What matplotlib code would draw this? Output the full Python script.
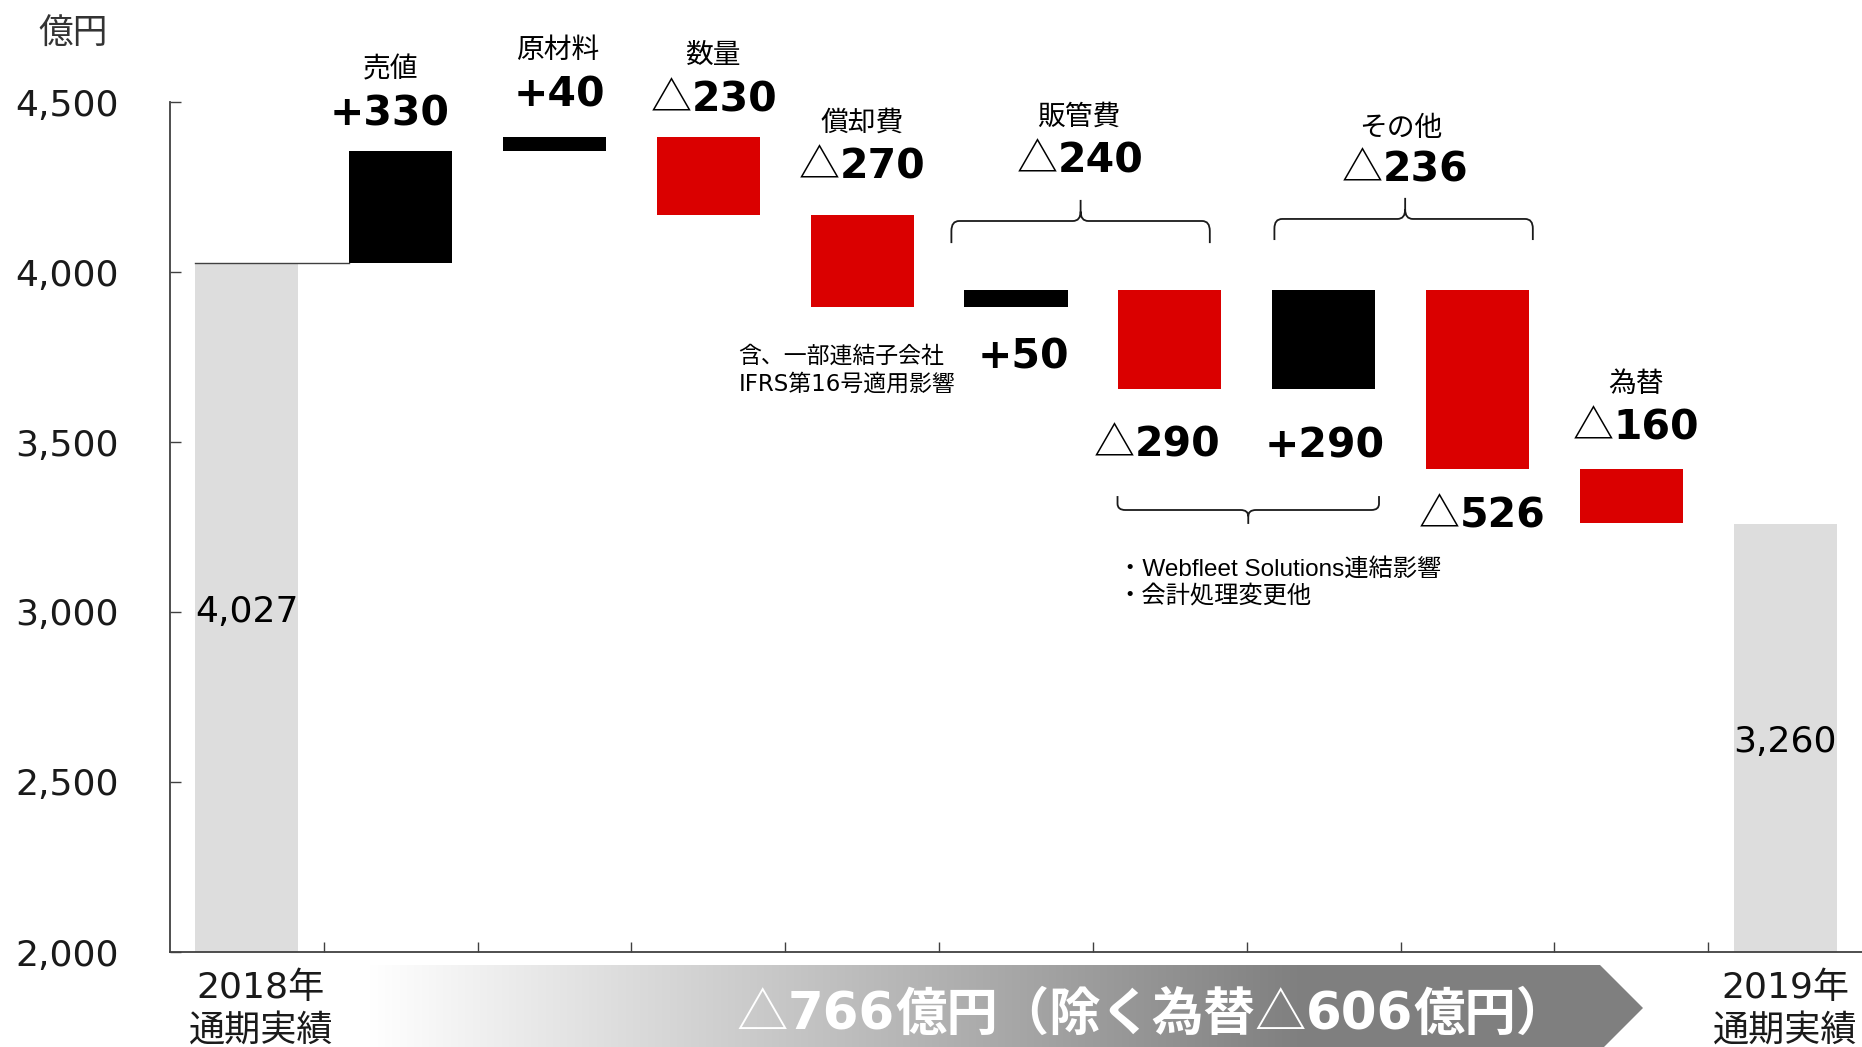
import numpy as np
import matplotlib
matplotlib.use('Agg')
import matplotlib.pyplot as plt
from matplotlib.path import Path
from matplotlib.patches import PathPatch, Polygon
from matplotlib import transforms

# ---------------- data ----------------
start_total = 4027
end_total = 3260
deltas = [330, 40, -230, -270, 50, -290, 290, -526, -160]
step_names = ['売値', '原材料', '数量', '償却費', '', '', '', '', '為替']
group_names = ['販管費', 'その他']
group_members = [(4, 5), (6, 7)]          # indices into deltas
yticks = [2000, 2500, 3000, 3500, 4000, 4500]
total_top = ['2018年', '2019年']
total_bottom = ['通期実績', '通期実績']
unit_label = '億円'
note_ifrs = ['含、一部連結子会社', 'IFRS第16号適用影響']
note_other = ['・Webfleet Solutions連結影響', '・会計処理変更他']
banner_parts = ['△', '766', '億円（除く為替', '△', '606', '億円）']

# ---------------- layout (text positions) ----------------
value_pos = [(0.93, 4432), (2.03, 4488), (3.04, 4471), (4.0, 4274), (5.05, 3715),
             (5.92, 3456), (7.01, 3453), (8.03, 3250), (9.03, 3506)]
name_pos = [(0.935, 4571), (2.02, 4629), (3.03, 4615), (4.0, 4415), None, None, None, None, (9.03, 3647)]
group_name_pos = [(5.41, 4432), (7.5, 4400)]
group_value_pos = [(5.42, 4294), (7.53, 4265)]
brace_top = [(4.58, 6.26, 5.42, 4085, 4150, 4212), (6.68, 8.36, 7.53, 4094, 4156, 4218)]
brace_bottom = (5.66, 7.36, 6.51, 3341, 3300, 3259)

RED = '#DA0000'
BLACK = '#000000'
GREY = '#DDDDDD'
AX_COL = '#404040'
CJK = 'Noto Sans CJK JP'
NUMFONT = ['DejaVu Sans', CJK]

fig = plt.figure(figsize=(18.62, 10.47), dpi=100)
ax = fig.add_axes([170 / 1862, 95 / 1047, 1692 / 1862, 952 / 1047])
ax.set_facecolor('none')
ax.set_xlim(-0.5, 10.5)
ax.set_ylim(2000, 4800)
renderer = fig.canvas.get_renderer()

# ---------------- bars ----------------
W = 0.67
levels = start_total + np.concatenate([[0], np.cumsum(deltas)])
ax.bar(0, start_total, width=W, color=GREY, zorder=2)
ax.bar(len(deltas) + 1, end_total, width=W, color=GREY, zorder=2)
for i, d in enumerate(deltas):
    bottom = min(levels[i], levels[i + 1])
    ax.bar(i + 1, abs(d), bottom=bottom, width=W,
           color=BLACK if d > 0 else RED, zorder=2)
ax.plot([0 - W / 2, 1 - W / 2], [start_total, start_total], color=AX_COL, lw=1.0, zorder=3)

# ---------------- axes styling ----------------
for s in ['top', 'right']:
    ax.spines[s].set_visible(False)
ax.spines['left'].set_bounds(2000, 4500)
for s in ['left', 'bottom']:
    ax.spines[s].set_color(AX_COL)
    ax.spines[s].set_linewidth(1.3)
ax.set_yticks(yticks)
ax.set_yticklabels([f'{v:,}' for v in yticks], fontsize=26, family='DejaVu Sans', color='#1a1a1a')
ax.tick_params(axis='y', direction='in', length=8, width=1.0, color=AX_COL, pad=37)
ax.set_xticks(np.arange(0.5, len(deltas) + 1, 1.0))
ax.set_xticklabels([])
ax.tick_params(axis='x', direction='in', length=7, width=1.0, color=AX_COL)


def rich_text(axis, x, y, segments, trans=None, zorder=6):
    trans = trans if trans is not None else axis.transData
    texts, widths = [], []
    for s, kw in segments:
        t = axis.text(x, y, s, ha='left', va='baseline', transform=trans,
                      clip_on=False, zorder=zorder, **kw)
        texts.append(t)
        widths.append(t.get_window_extent(renderer).width)
    total = sum(widths)
    off = -total / 2
    for t, w in zip(texts, widths):
        t.set_transform(transforms.offset_copy(trans, fig=fig, x=off, y=0, units='dots'))
        off += w


def value_text(val):
    return (f'+{val}', None) if val > 0 else (str(-val), '△')


def value_label(x, y, val, size=29.5):
    num, tri = value_text(val)
    segs = []
    if tri:
        segs.append((tri, dict(family=CJK, fontsize=size, color='black')))
    segs.append((num, dict(family=NUMFONT, fontsize=size, fontweight='bold', color='black')))
    rich_text(ax, x, y, segs)


for i, d in enumerate(deltas):
    value_label(*value_pos[i], d)
    if name_pos[i] is not None:
        ax.text(*name_pos[i], step_names[i], ha='center', va='baseline', family=CJK,
                fontsize=20, color='black', clip_on=False)

for g, (a, b) in enumerate(group_members):
    value_label(*group_value_pos[g], deltas[a] + deltas[b])
    ax.text(*group_name_pos[g], group_names[g], ha='center', va='baseline', family=CJK,
            fontsize=20, color='black', clip_on=False)


def brace(x0, x1, xc, y_end, y_h, y_tip, rx=0.05):
    ke = 0.45 * (y_end - y_h)
    kt = 0.45 * (y_tip - y_h)
    verts = [(x0, y_end), (x0, y_h + ke), (x0, y_h), (x0 + rx, y_h),
             (xc - rx, y_h), (xc, y_h), (xc, y_h + kt), (xc, y_tip),
             (xc, y_h + kt), (xc, y_h), (xc + rx, y_h),
             (x1 - rx, y_h), (x1, y_h), (x1, y_h + ke), (x1, y_end)]
    codes = [Path.MOVETO, Path.LINETO, Path.CURVE3, Path.CURVE3,
             Path.LINETO, Path.CURVE3, Path.CURVE3, Path.LINETO,
             Path.MOVETO, Path.CURVE3, Path.CURVE3,
             Path.LINETO, Path.CURVE3, Path.CURVE3, Path.LINETO]
    ax.add_patch(PathPatch(Path(verts, codes), fill=False, lw=1.3, edgecolor='#1a1a1a',
                           clip_on=False, zorder=4))


for b in brace_top:
    brace(*b)
brace(*brace_bottom)

# totals labels
ax.text(0, 2971, f'{start_total:,}', ha='center', va='baseline', fontsize=26,
        family='DejaVu Sans', color='black', zorder=5)
ax.text(10, 2588, f'{end_total:,}', ha='center', va='baseline', fontsize=26,
        family='DejaVu Sans', color='black', zorder=5)
for xi, xpos in enumerate([0.09, 10.0]):
    ax.text(xpos, 1865, total_top[xi], ha='center', va='baseline', fontsize=26,
            family=NUMFONT, color='#1a1a1a', clip_on=False)
    ax.text(xpos, 1738, total_bottom[xi], ha='center', va='baseline', fontsize=26,
            family=CJK, color='#1a1a1a', clip_on=False)

# unit
ax.text(-1.13, 4671, unit_label, ha='center', va='baseline', fontsize=25, family=CJK,
        color='#333333', clip_on=False)

# notes
ax.text(3.195, 3732, note_ifrs[0], ha='left', va='baseline', fontsize=16.5, family=CJK, color='black')
ax.text(3.195, 3650, note_ifrs[1], ha='left', va='baseline', fontsize=16.5,
        family=['DejaVu Sans', CJK], color='black')
ax.text(5.66, 3106, note_other[0], ha='left', va='baseline', fontsize=17.5,
        family=['Liberation Sans', CJK], color='black')
ax.text(5.66, 3026, note_other[1], ha='left', va='baseline', fontsize=17.5,
        family=['Liberation Sans', CJK], color='black')

# ---------------- banner ----------------
bx = fig.add_axes([0, 0, 1, 1], zorder=5)
bx.set_xlim(0, 1862)
bx.set_ylim(1047, 0)
bx.axis('off')
bx.patch.set_alpha(0)
x0b, x1b, xtip, ytop, ymid, ybot = 370, 1600, 1643, 965, 1008, 1051
poly = Polygon([(x0b, ytop), (x1b, ytop), (xtip, ymid), (x1b, ybot), (x0b, ybot)],
               closed=True, facecolor='none', edgecolor='none', transform=bx.transData)
bx.add_patch(poly)
xs = np.arange(x0b, xtip + 1)
vals = 1.0 - 0.5 * np.clip((xs - x0b) / (1300 - x0b), 0, 1)
img = np.repeat(vals[None, :, None], 3, axis=2)
im = bx.imshow(img, extent=[x0b, xtip + 1, ybot, ytop], aspect='auto', interpolation='bilinear')
im.set_clip_path(poly)
bx.set_xlim(0, 1862)
bx.set_ylim(1047, 0)

bsize = 37
segs = []
for p in banner_parts:
    if p == '△':
        segs.append((p, dict(family=CJK, fontsize=bsize, color='white')))
    elif p.isdigit():
        segs.append((p, dict(family='DejaVu Sans', fontsize=bsize, fontweight='bold', color='white')))
    else:
        segs.append((p, dict(family=CJK, fontsize=bsize, fontweight='bold', color='white')))
rich_text(bx, 1152, 1030, segs, trans=bx.transData)

fig.savefig('out.png', dpi=100)
